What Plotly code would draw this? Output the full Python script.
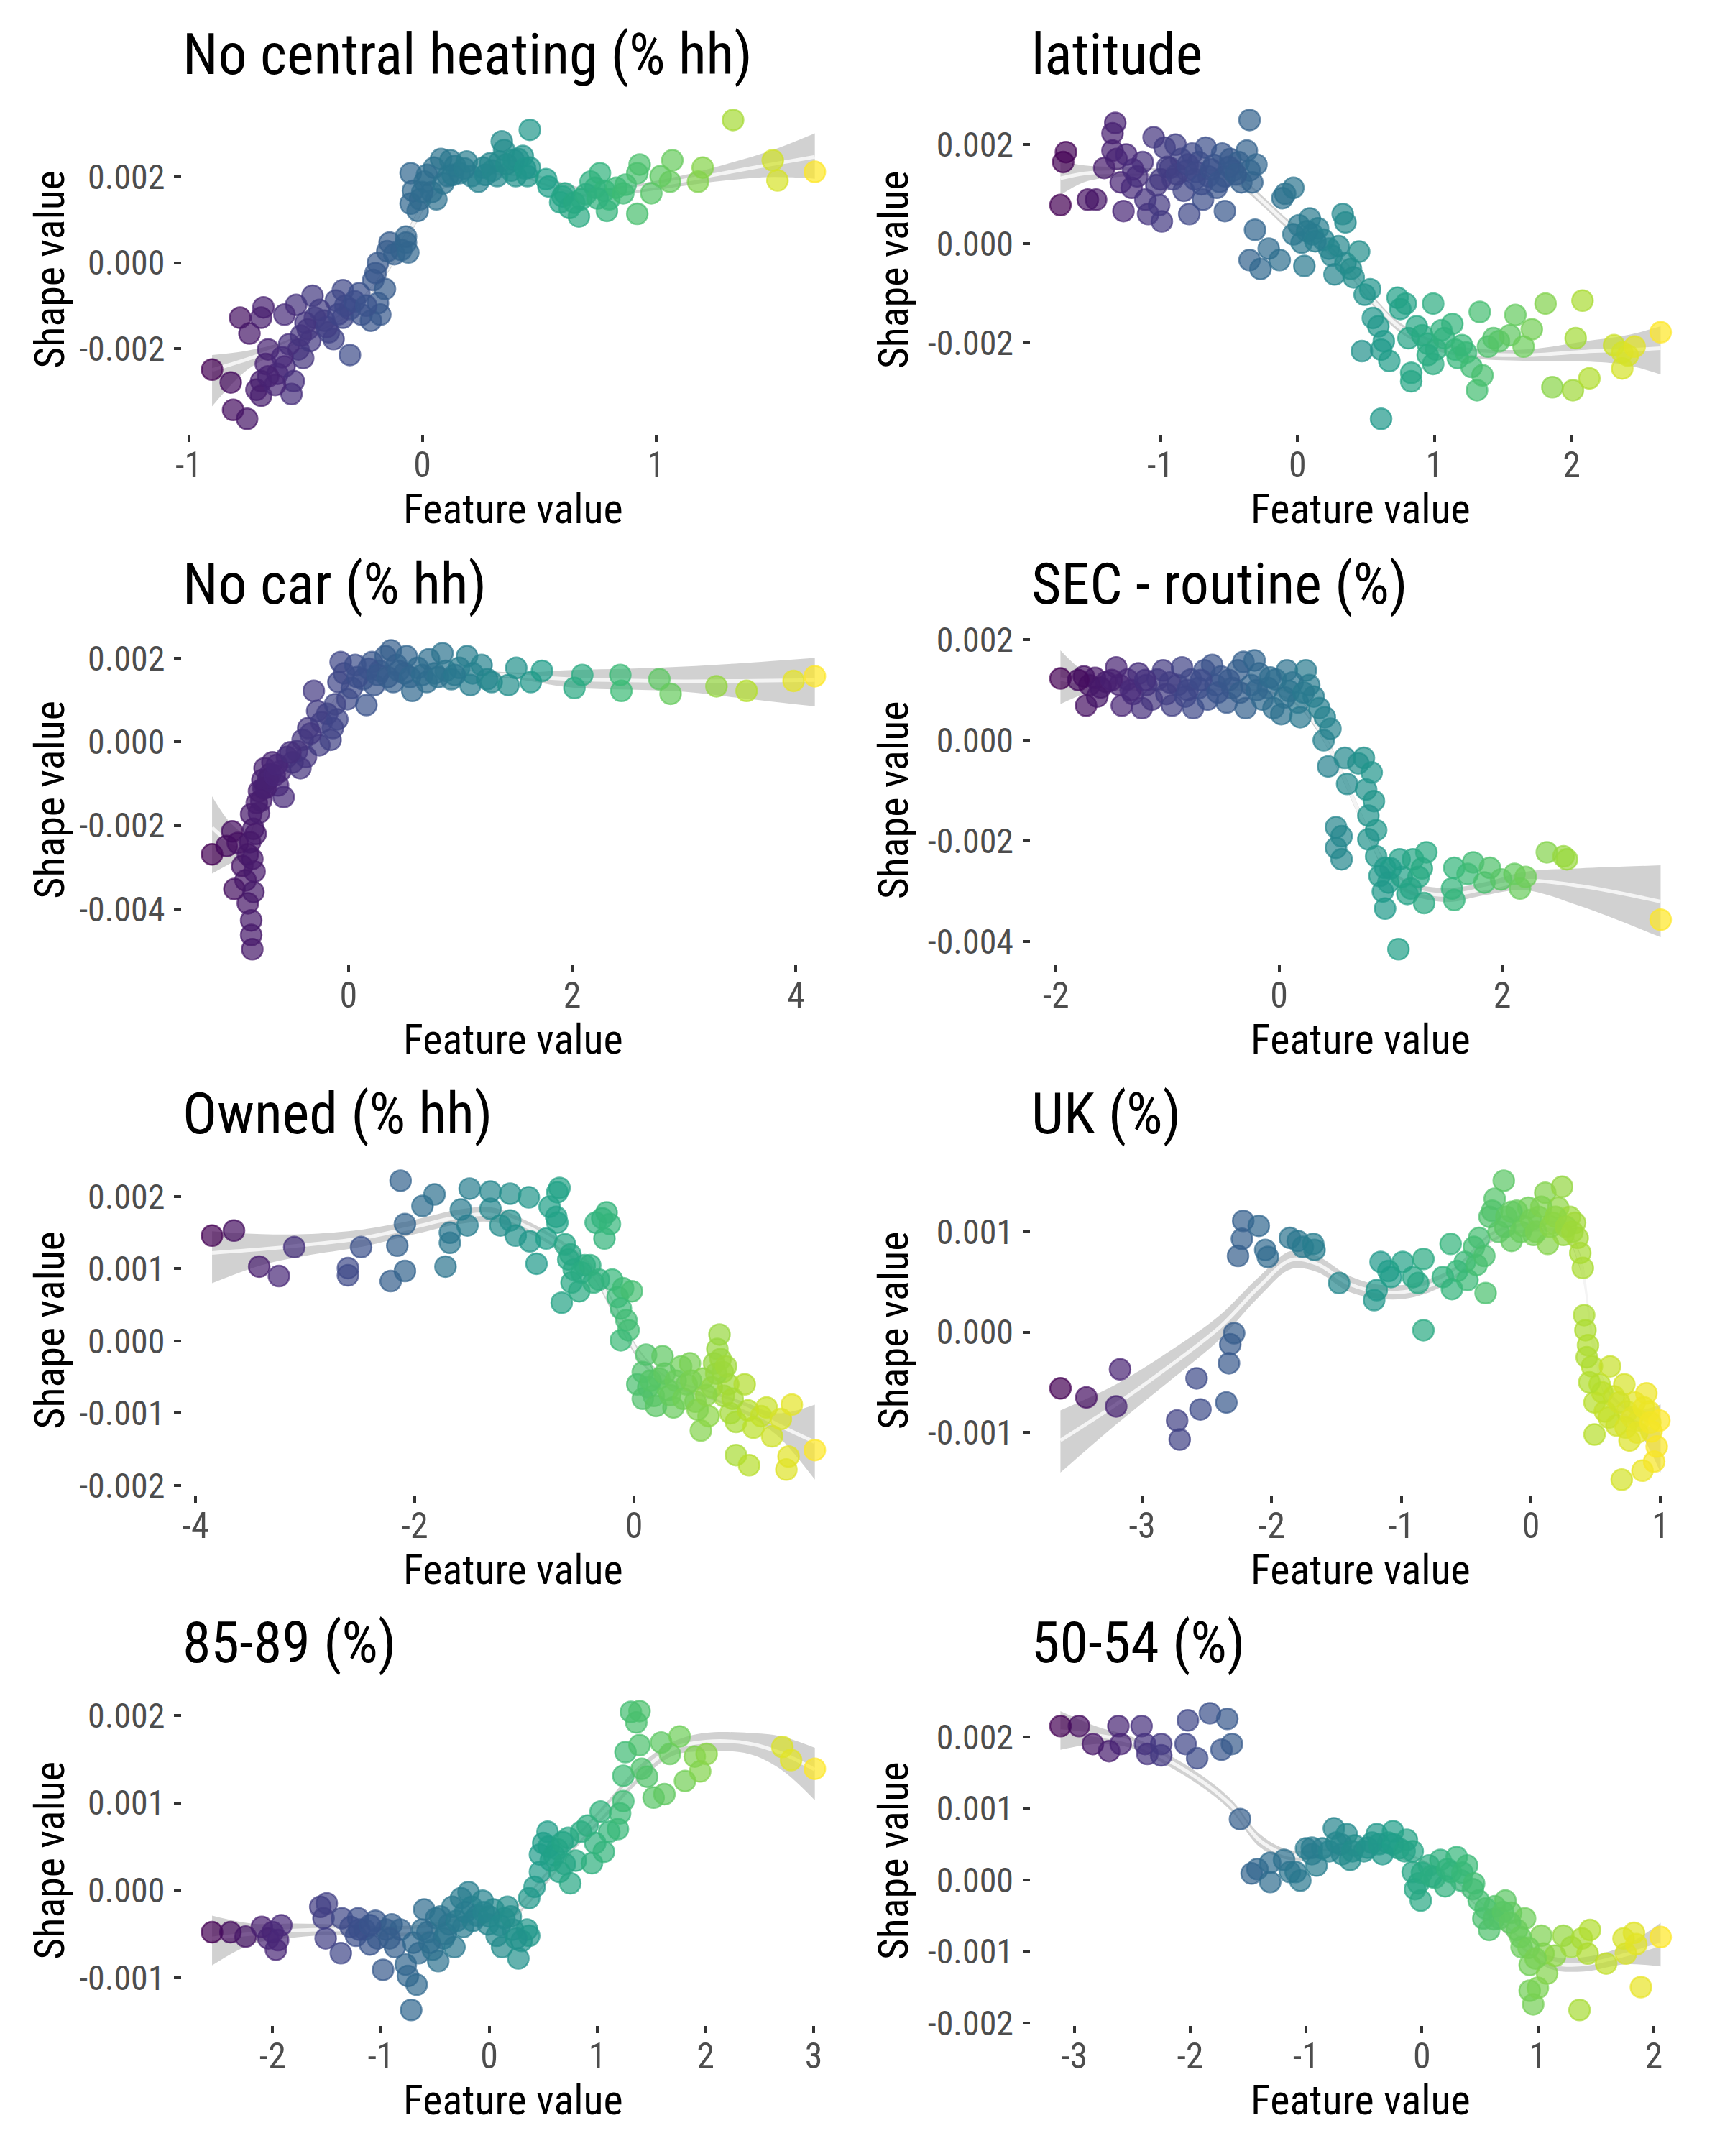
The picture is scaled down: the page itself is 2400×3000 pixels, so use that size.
import plotly.graph_objects as go
from plotly.colors import sample_colorscale

FONT = "Roboto Condensed, Liberation Sans Narrow, DejaVu Sans Condensed, Roboto, sans-serif"
MILLI = 1e-3  # shape values below are written in thousandths

# ---- No central heating (% hh) ----
heating_points = [
    (-0.90, -2.49), (-0.82, -2.79), (-0.81, -3.43), (-0.75, -3.64), (-0.78, -1.28), (-0.74, -1.65),
    (-0.68, -1.04), (-0.69, -1.28), (-0.71, -2.96), (-0.69, -2.76), (-0.69, -3.10), (-0.67, -2.36),
    (-0.66, -2.02), (-0.62, -2.59), (-0.59, -2.42), (-0.56, -3.06), (-0.55, -2.76), (-0.54, -0.98),
    (-0.59, -1.21), (-0.53, -2.02), (-0.51, -2.22), (-0.49, -1.55), (-0.47, -0.77), (-0.48, -1.82),
    (-0.46, -1.28), (-0.42, -1.35), (-0.40, -1.62), (-0.38, -1.78), (-0.37, -0.88), (-0.34, -1.28),
    (-0.31, -2.15), (-0.34, -0.64), (-0.31, -1.08), (-0.27, -0.71), (-0.26, -1.21), (-0.22, -1.35),
    (-0.21, -0.40), (-0.19, -0.94), (-0.18, -1.21), (-0.16, -0.61), (-0.20, -0.24), (-0.19, 0.00),
    (-0.15, 0.27), (-0.14, 0.47), (-0.12, 0.20), (-0.09, 0.30), (-0.07, 0.47), (-0.06, 0.24),
    (-0.07, 0.61), (-0.60, -2.20), (-0.57, -1.90), (-0.52, -1.70), (-0.50, -1.40), (-0.44, -1.10),
    (-0.41, -1.50), (-0.36, -1.20), (-0.33, -1.00), (-0.29, -0.90), (-0.24, -1.00), (-0.63, -2.85),
    (-0.66, -2.65),
    (-0.05, 1.38), (-0.02, 1.21), (-0.01, 1.48), (-0.04, 1.68), (-0.05, 2.09), (0.01, 1.89),
    (0.04, 1.65), (0.06, 1.48), (0.05, 2.22), (0.08, 2.42), (0.11, 2.02), (0.12, 2.39),
    (0.14, 2.26), (0.16, 2.09), (0.19, 2.36), (0.21, 2.02), (0.24, 1.89), (0.26, 2.22),
    (0.29, 2.32), (0.32, 2.02), (0.33, 2.36), (0.34, 2.83), (0.35, 2.63), (0.38, 2.15),
    (0.40, 2.02), (0.41, 2.42), (0.43, 2.49), (0.46, 2.22), (0.46, 3.10), (0.45, 2.02),
    (0.00, 1.65), (0.02, 2.05), (0.09, 1.85), (0.13, 2.05), (0.18, 2.20), (0.27, 2.05),
    (0.30, 2.15), (0.36, 2.30), (0.39, 2.40), (0.44, 2.20),
    (0.53, 1.95), (0.54, 1.78), (0.59, 1.41), (0.61, 1.62), (0.63, 1.28), (0.67, 1.08),
    (0.68, 1.48), (0.72, 1.89), (0.74, 1.75), (0.76, 2.09), (0.78, 1.68), (0.79, 1.21),
    (0.80, 1.48), (0.83, 1.75), (0.86, 1.62), (0.87, 1.82), (0.92, 2.09), (0.92, 1.14),
    (0.93, 2.29), (0.98, 1.62), (1.02, 2.02), (1.06, 1.89), (1.07, 2.39), (1.18, 1.89),
    (1.20, 2.22), (1.33, 3.33), (1.50, 2.39), (1.52, 1.92), (1.68, 2.12),
    (0.60, 1.55), (0.65, 1.40), (0.70, 1.60), (0.75, 1.50),
]
heating_smooth = [  # x, fit, lower, upper
    (-0.90, -2.50, -3.35, -2.15), (-0.75, -2.25, -2.50, -2.05), (-0.60, -1.95, -2.05, -1.85),
    (-0.45, -1.55, -1.63, -1.47), (-0.30, -1.10, -1.18, -1.02), (-0.15, -0.15, -0.25, -0.05),
    (-0.05, 0.80, 0.68, 0.92), (0.05, 1.65, 1.55, 1.75), (0.20, 2.05, 1.97, 2.13),
    (0.40, 2.10, 2.02, 2.18), (0.55, 1.85, 1.75, 1.95), (0.70, 1.64, 1.54, 1.74),
    (0.90, 1.72, 1.62, 1.82), (1.10, 1.90, 1.78, 2.02), (1.30, 2.10, 1.92, 2.30),
    (1.50, 2.30, 2.00, 2.63), (1.68, 2.47, 1.96, 3.02),
]

# ---- latitude ----
latitude_points = [
    (-1.69, 1.85), (-1.71, 1.65), (-1.73, 0.78), (-1.53, 0.89), (-1.47, 0.89), (-1.41, 1.53),
    (-1.35, 2.23), (-1.33, 2.44), (-1.35, 1.88), (-1.32, 1.71), (-1.29, 1.24), (-1.27, 0.66),
    (-1.21, 1.13), (-1.17, 1.36), (-1.13, 1.65), (-1.11, 0.89), (-1.09, 0.60), (-1.05, 2.15),
    (-1.03, 1.18), (-1.01, 0.78), (-0.99, 0.45), (-0.97, 1.94), (-0.93, 1.53), (-0.91, 1.30),
    (-0.89, 2.00), (-0.85, 1.71), (-0.83, 1.07), (-0.81, 1.48), (-0.79, 0.60), (-0.77, 1.82),
    (-0.75, 1.30), (-0.72, 1.65), (-0.69, 0.89), (-0.67, 1.94), (-0.65, 1.36), (-0.61, 1.59),
    (-0.59, 1.13), (-0.55, 1.82), (-0.53, 1.36), (-0.53, 0.66), (-0.49, 1.71), (-0.47, 1.48),
    (-0.43, 1.65), (-0.41, 1.24), (-0.37, 1.88), (-0.35, 2.50), (-0.35, 1.48), (-0.33, 1.24),
    (-1.00, 1.30), (-0.95, 1.55), (-0.88, 1.40), (-0.80, 1.60), (-0.74, 1.45), (-0.70, 1.20),
    (-0.63, 1.50), (-0.57, 1.25), (-0.50, 1.55), (-0.45, 1.40), (-1.25, 1.80), (-1.20, 1.50),
    (-0.30, 1.60),
    (-0.31, 0.28), (-0.35, -0.33), (-0.27, -0.51), (-0.21, -0.10), (-0.13, -0.33), (-0.11, 0.92),
    (-0.09, 1.01), (-0.03, 1.13), (-0.03, 0.19), (0.01, 0.37), (0.03, 0.02), (0.05, -0.45),
    (0.09, 0.51), (0.11, 0.19), (0.15, 0.31), (0.19, 0.08), (0.23, -0.10), (0.25, -0.24),
    (0.27, -0.62), (0.33, 0.60), (0.35, 0.43), (0.35, -0.39), (0.39, -0.51), (0.45, -0.16),
    (0.41, -0.68), (0.49, -1.03), (0.53, -0.92), (0.55, -1.50), (0.59, -1.67), (0.61, -2.14),
    (0.47, -2.17), (0.63, -1.97), (0.67, -2.37), (0.73, -1.09), (0.75, -1.32), (0.79, -1.21),
    (0.81, -1.91), (0.83, -2.61), (0.83, -2.78), (0.87, -1.67), (0.91, -1.85), (0.95, -2.02),
    (0.99, -1.21), (1.01, -2.14), (0.99, -2.43), (1.07, -1.91), (1.13, -1.62), (1.15, -2.14),
    (1.17, -2.31), (1.23, -2.20), (1.27, -2.49), (1.31, -2.96), (1.33, -1.38), (1.35, -2.66),
    (1.39, -2.08), (1.43, -1.91), (1.47, -1.97), (1.55, -1.85), (1.59, -1.44), (1.65, -2.08),
    (1.71, -1.73), (1.81, -1.21), (1.86, -2.90), (2.01, -2.96), (2.03, -1.91), (2.08, -1.15),
    (2.13, -2.72), (2.31, -2.05), (2.37, -2.20), (2.41, -2.26), (2.37, -2.52), (2.46, -2.08),
    (2.65, -1.79), (0.61, -3.54), (0.07, 0.25), (0.13, 0.05), (0.30, -0.05), (0.95, -2.25),
    (1.05, -1.75), (1.20, -2.05),
]
latitude_smooth = [
    (-1.73, 1.32, 0.98, 1.68), (-1.55, 1.42, 1.25, 1.58), (-1.30, 1.45, 1.35, 1.55),
    (-1.00, 1.45, 1.38, 1.52), (-0.70, 1.45, 1.38, 1.52), (-0.45, 1.30, 1.20, 1.40),
    (-0.25, 0.85, 0.75, 0.95), (-0.05, 0.35, 0.25, 0.45), (0.15, 0.05, -0.05, 0.15),
    (0.35, -0.45, -0.55, -0.35), (0.55, -1.15, -1.25, -1.05), (0.75, -1.70, -1.80, -1.60),
    (1.00, -2.05, -2.15, -1.95), (1.30, -2.22, -2.32, -2.12), (1.70, -2.25, -2.37, -2.13),
    (2.10, -2.18, -2.38, -1.97), (2.40, -2.15, -2.45, -1.85), (2.65, -2.11, -2.64, -1.67),
]

# ---- No car (% hh) ----
nocar_points = [
    (-1.22, -2.69), (-1.09, -2.49), (-1.04, -2.14), (-0.99, -2.42), (-1.02, -3.52), (-0.95, -2.97),
    (-0.92, -3.31), (-0.90, -3.86), (-0.87, -4.27), (-0.87, -4.62), (-0.86, -4.96), (-0.85, -3.59),
    (-0.90, -2.69), (-0.85, -2.08), (-0.87, -1.73), (-0.82, -1.46), (-0.80, -1.18), (-0.77, -0.91),
    (-0.75, -0.63), (-0.76, -1.11), (-0.70, -0.77), (-0.68, -0.49), (-0.63, -1.04), (-0.61, -0.70),
    (-0.58, -1.32), (-0.55, -0.36), (-0.50, -0.49), (-0.46, -0.22), (-0.43, -0.63), (-0.41, 0.05),
    (-0.38, -0.36), (-0.36, 0.33), (-0.31, 1.22), (-0.28, 0.74), (-0.26, -0.08), (-0.24, 0.47),
    (-0.19, 0.67), (-0.16, 0.05), (-0.14, 0.33), (-0.10, 0.54), (-0.09, 1.43), (-0.07, 1.91),
    (-0.04, 1.64), (-0.01, 1.02), (0.03, 1.29), (0.06, 1.84), (0.13, 1.50), (0.16, 0.88),
    (0.21, 1.91), (0.23, 1.36), (0.28, 1.70), (0.33, 2.05), (0.38, 2.19), (0.40, 1.43),
    (0.43, 1.84), (0.50, 1.64), (0.52, 2.05), (0.57, 1.22), (0.62, 1.77), (0.70, 1.43),
    (0.72, 1.98), (0.77, 1.64), (0.84, 2.12), (0.87, 1.70), (0.92, 1.50), (0.99, 1.77),
    (1.06, 2.05), (1.09, 1.36), (1.11, 1.64), (1.19, 1.84), (1.24, 1.50), (1.28, 1.43),
    (1.43, 1.36), (1.50, 1.77), (1.63, 1.43), (1.73, 1.70), (2.02, 1.29), (2.09, 1.60),
    (2.43, 1.60), (2.44, 1.22), (2.78, 1.50), (2.88, 1.15), (3.29, 1.33), (3.56, 1.22),
    (3.98, 1.46), (4.17, 1.57),
    (-0.88, -2.40), (-0.86, -2.80), (-0.84, -3.10), (-0.83, -2.20), (-0.80, -1.70), (-0.78, -1.40),
    (-0.74, -1.10), (-0.72, -0.90), (-0.66, -0.80), (-0.64, -0.55), (-0.52, -0.25), (-0.34, 0.20),
    (-0.12, 0.90), (0.08, 1.55), (0.18, 1.75), (0.26, 1.60), (0.35, 1.55), (0.45, 1.70),
    (0.55, 1.55), (0.66, 1.60), (0.80, 1.55), (0.95, 1.60),
]
nocar_smooth = [
    (-1.22, -2.05, -3.15, -1.30), (-1.05, -2.40, -2.90, -1.95), (-0.90, -2.45, -2.70, -2.20),
    (-0.75, -1.20, -1.35, -1.05), (-0.60, -0.80, -0.92, -0.68), (-0.40, -0.10, -0.20, 0.00),
    (-0.20, 0.65, 0.55, 0.75), (0.00, 1.35, 1.27, 1.43), (0.20, 1.65, 1.58, 1.72),
    (0.50, 1.72, 1.66, 1.78), (1.00, 1.68, 1.62, 1.74), (1.50, 1.58, 1.50, 1.66),
    (2.00, 1.50, 1.30, 1.72), (2.50, 1.47, 1.25, 1.75), (3.00, 1.45, 1.20, 1.80),
    (3.50, 1.46, 1.05, 1.88), (4.17, 1.48, 0.85, 2.01),
]

# ---- SEC - routine (%) ----
sec_points = [
    (-1.96, 1.23), (-1.75, 1.27), (-1.73, 0.69), (-1.70, 1.10), (-1.65, 1.24), (-1.63, 0.87),
    (-1.55, 1.16), (-1.46, 1.45), (-1.43, 1.10), (-1.41, 0.69), (-1.36, 1.21), (-1.31, 0.92),
    (-1.26, 1.33), (-1.23, 0.64), (-1.19, 1.10), (-1.14, 0.81), (-1.09, 1.21), (-1.04, 1.39),
    (-1.01, 0.92), (-0.96, 0.69), (-0.91, 1.10), (-0.87, 1.45), (-0.84, 0.87), (-0.79, 1.21),
    (-0.77, 0.64), (-0.72, 1.04), (-0.67, 1.39), (-0.64, 0.81), (-0.60, 1.50), (-0.57, 1.10),
    (-0.52, 1.27), (-0.47, 0.75), (-0.42, 1.04), (-0.37, 1.39), (-0.32, 1.56), (-0.30, 0.64),
    (-0.25, 1.10), (-0.22, 1.59), (-0.18, 1.33), (-0.15, 0.81), (-0.10, 1.04), (-0.05, 0.64),
    (-0.03, 1.21), (0.02, 0.52), (0.07, 1.39), (0.09, 0.98), (0.17, 0.75), (0.19, 0.46),
    (0.24, 1.39), (0.27, 1.10), (0.31, 0.87), (0.36, 0.64), (0.41, 0.46), (0.46, 0.23),
    (0.40, 0.00), (0.44, -0.52), (0.59, -0.35), (0.61, -0.87), (0.56, -1.91), (0.51, -2.14),
    (0.51, -1.73), (0.56, -2.37), (0.71, -0.46), (0.76, -0.35), (0.78, -0.98), (0.83, -0.64),
    (0.85, -1.21), (0.80, -1.50), (0.87, -1.79), (0.80, -1.97), (0.87, -2.31), (0.95, -2.54),
    (0.98, -2.83), (0.93, -3.01), (0.95, -3.35), (1.08, -2.37), (1.10, -2.72), (1.15, -3.06),
    (1.20, -2.37), (1.25, -2.72), (1.30, -3.24), (1.32, -2.23), (1.07, -4.16), (1.57, -2.54),
    (1.55, -2.95), (1.57, -3.18), (1.69, -2.66), (1.74, -2.43), (1.84, -2.83), (1.89, -2.54),
    (1.99, -2.77), (2.11, -2.66), (2.16, -2.95), (2.21, -2.72), (2.40, -2.23), (2.55, -2.31),
    (2.58, -2.37), (3.42, -3.57),
    (-1.80, 1.20), (-1.60, 1.05), (-1.50, 1.20), (-1.33, 1.00), (-1.20, 1.20), (-0.98, 1.15),
    (-0.82, 1.00), (-0.70, 1.20), (-0.55, 0.95), (-0.45, 1.20), (-0.35, 0.95), (-0.20, 1.00),
    (-0.08, 1.25), (0.05, 0.85), (0.12, 1.15), (0.22, 0.95), (1.00, -2.55), (1.18, -2.95),
    (1.28, -2.55), (0.90, -2.70),
]
sec_smooth = [
    (-1.96, 1.22, 0.72, 1.79), (-1.70, 1.12, 0.95, 1.30), (-1.40, 1.07, 0.98, 1.16),
    (-1.00, 1.05, 0.98, 1.12), (-0.50, 1.06, 0.99, 1.13), (-0.10, 1.02, 0.94, 1.10),
    (0.15, 0.80, 0.70, 0.90), (0.35, 0.25, 0.15, 0.35), (0.55, -0.60, -0.70, -0.50),
    (0.75, -1.60, -1.70, -1.50), (0.95, -2.50, -2.62, -2.38), (1.15, -2.92, -3.04, -2.80),
    (1.50, -3.08, -3.22, -2.94), (1.85, -2.95, -3.08, -2.82), (2.20, -2.80, -2.98, -2.62),
    (2.70, -2.90, -3.30, -2.55), (3.42, -3.21, -3.92, -2.49),
]

# ---- Owned (% hh) ----
owned_points = [
    (-3.85, 1.46), (-3.65, 1.53), (-3.42, 1.03), (-3.24, 0.90), (-3.10, 1.30), (-2.61, 1.01),
    (-2.61, 0.91), (-2.49, 1.30), (-2.22, 0.83), (-2.16, 1.32), (-2.09, 0.97), (-2.13, 2.22),
    (-2.09, 1.62), (-1.93, 1.87), (-1.82, 2.03), (-1.72, 1.03), (-1.68, 1.36), (-1.68, 1.50),
    (-1.58, 1.82), (-1.52, 1.60), (-1.50, 2.11), (-1.31, 2.07), (-1.31, 1.83), (-1.22, 1.60),
    (-1.13, 2.04), (-1.13, 1.67), (-1.08, 1.46), (-0.96, 1.99), (-0.95, 1.38), (-0.89, 1.07),
    (-0.80, 1.42), (-0.77, 1.86), (-0.71, 1.72), (-0.70, 1.64), (-0.68, 2.12), (-0.70, 2.06),
    (-0.63, 1.34), (-0.60, 1.13), (-0.57, 0.81), (-0.66, 0.53), (-0.55, 0.99), (-0.50, 0.69),
    (-0.45, 1.05), (-0.37, 0.81), (-0.35, 1.64), (-0.29, 1.70), (-0.27, 1.42), (-0.22, 1.62),
    (-0.25, 1.78), (-0.20, 0.85), (-0.15, 0.61), (-0.10, 0.73), (-0.02, 0.69), (-0.12, 0.45),
    (-0.07, 0.29), (-0.05, 0.15), (-0.12, 0.01),
    (0.11, -0.19), (0.26, -0.21), (0.08, -0.43), (0.13, -0.64), (0.03, -0.60), (0.18, -0.76),
    (0.08, -0.80), (0.23, -0.52), (0.31, -0.68), (0.36, -0.92), (0.43, -0.35), (0.48, -0.60),
    (0.51, -0.31), (0.56, -0.84), (0.61, -1.24), (0.63, -0.52), (0.68, -1.04), (0.71, -0.64),
    (0.73, -0.31), (0.76, -0.11), (0.78, 0.09), (0.81, -0.43), (0.82, -0.76), (0.86, -0.60),
    (0.88, -1.00), (0.93, -1.12), (0.93, -1.58), (1.01, -0.60), (1.04, -0.96), (1.05, -1.72),
    (1.09, -1.20), (1.16, -1.04), (1.21, -0.92), (1.26, -1.32), (1.34, -1.08), (1.39, -1.78),
    (1.41, -1.60), (1.44, -0.88), (1.65, -1.51),
    (0.15, -0.55), (0.20, -0.90), (0.28, -0.45), (0.33, -0.75), (0.38, -0.55), (0.45, -0.80),
    (0.52, -0.55), (0.58, -0.95), (0.66, -0.75), (0.75, -0.45), (0.79, -0.25), (0.84, -0.35),
    (0.90, -0.80), (-0.58, 1.20), (-0.48, 0.95), (-0.40, 1.05), (-0.32, 0.85),
]
owned_smooth = [
    (-3.85, 1.22, 0.80, 1.52), (-3.40, 1.27, 1.05, 1.48), (-3.00, 1.33, 1.18, 1.48),
    (-2.50, 1.42, 1.30, 1.54), (-2.00, 1.58, 1.48, 1.68), (-1.60, 1.72, 1.62, 1.82),
    (-1.30, 1.75, 1.65, 1.85), (-1.00, 1.60, 1.52, 1.68), (-0.70, 1.35, 1.27, 1.43),
    (-0.40, 1.00, 0.92, 1.08), (-0.15, 0.35, 0.25, 0.45), (0.05, -0.20, -0.28, -0.12),
    (0.30, -0.55, -0.61, -0.49), (0.70, -0.75, -0.81, -0.69), (1.00, -0.92, -1.00, -0.84),
    (1.30, -1.15, -1.30, -1.00), (1.65, -1.40, -1.92, -0.88),
]

# ---- UK (%) ----
uk_points = [
    (-3.63, -0.56), (-3.43, -0.65), (-3.20, -0.74), (-3.17, -0.37), (-2.73, -0.88), (-2.71, -1.07),
    (-2.58, -0.46), (-2.55, -0.77), (-2.35, -0.70), (-2.33, -0.31), (-2.32, -0.12), (-2.29, -0.01),
    (-2.26, 0.76), (-2.23, 0.93), (-2.22, 1.11), (-2.10, 1.06), (-2.05, 0.82), (-2.03, 0.75),
    (-1.86, 0.94), (-1.80, 0.91), (-1.76, 0.85), (-1.68, 0.88), (-1.67, 0.82), (-1.48, 0.49),
    (-1.21, 0.32), (-1.19, 0.42), (-1.16, 0.70), (-1.10, 0.61), (-1.08, 0.55), (-0.99, 0.70),
    (-0.91, 0.55), (-0.87, 0.49), (-0.83, 0.73), (-0.83, 0.02), (-0.68, 0.55), (-0.62, 0.88),
    (-0.61, 0.43), (-0.57, 0.61), (-0.51, 0.70), (-0.49, 0.52), (-0.44, 0.85), (-0.42, 0.67),
    (-0.40, 0.94), (-0.36, 0.76), (-0.35, 0.39), (-0.32, 1.15), (-0.28, 1.33), (-0.30, 1.21),
    (-0.25, 1.00), (-0.21, 1.51), (-0.19, 1.15), (-0.15, 0.91), (-0.11, 1.21), (-0.06, 1.06),
    (-0.02, 1.24), (0.02, 0.97), (0.06, 1.15), (0.11, 1.39), (0.13, 0.88), (0.17, 1.09),
    (0.21, 1.24), (0.24, 1.45), (0.25, 0.97), (0.30, 1.15), (0.34, 1.09), (0.36, 0.94),
    (0.38, 0.79), (0.40, 0.64), (0.41, 0.17), (0.42, 0.02), (0.44, -0.13), (0.47, -0.34),
    (0.49, -0.70), (0.49, -1.02), (0.53, -0.52), (0.57, -0.79), (0.61, -0.34), (0.64, -0.64),
    (0.66, -0.93), (0.70, -1.47), (0.72, -0.52), (0.74, -0.79), (0.76, -1.08), (0.80, -0.70),
    (0.83, -0.88), (0.86, -1.38), (0.89, -0.61), (0.91, -0.79), (0.93, -0.99), (0.95, -1.29),
    (0.97, -1.14), (0.99, -0.88),
    (-0.20, 1.05), (-0.15, 1.20), (-0.08, 1.00), (0.00, 1.12), (0.04, 1.00), (0.08, 1.25),
    (0.15, 1.05), (0.19, 1.15), (0.27, 1.05), (0.32, 1.00), (0.55, -0.60), (0.60, -0.85),
    (0.68, -0.70), (0.73, -0.95), (0.78, -0.85), (0.82, -1.00), (0.87, -0.75), (0.92, -0.90),
    (0.45, -0.50), (0.43, -0.25),
]
uk_smooth = [
    (-3.63, -1.08, -1.40, -0.78), (-3.20, -0.72, -0.92, -0.52), (-2.80, -0.35, -0.50, -0.20),
    (-2.40, 0.05, -0.07, 0.17), (-2.10, 0.45, 0.35, 0.55), (-1.85, 0.72, 0.63, 0.81),
    (-1.65, 0.68, 0.60, 0.76), (-1.40, 0.48, 0.40, 0.56), (-1.15, 0.40, 0.33, 0.47),
    (-0.90, 0.42, 0.35, 0.49), (-0.60, 0.58, 0.52, 0.64), (-0.30, 0.95, 0.90, 1.00),
    (0.00, 1.05, 1.00, 1.10), (0.25, 1.02, 0.96, 1.08), (0.38, 0.70, 0.62, 0.78),
    (0.48, -0.10, -0.18, -0.02), (0.60, -0.65, -0.72, -0.58), (0.80, -0.85, -0.93, -0.77),
    (1.00, -0.97, -1.40, -0.72),
]

# ---- 85-89 (%) ----
age85_points = [
    (-2.56, -0.48), (-2.39, -0.48), (-2.25, -0.53), (-2.10, -0.42), (-2.04, -0.55), (-2.00, -0.48),
    (-1.97, -0.68), (-1.92, -0.40), (-1.95, -0.57), (-1.56, -0.19), (-1.50, -0.15), (-1.53, -0.32),
    (-1.51, -0.55), (-1.37, -0.72), (-1.36, -0.32), (-1.28, -0.42), (-1.23, -0.52), (-1.21, -0.32),
    (-1.15, -0.45), (-1.10, -0.62), (-1.05, -0.35), (-1.03, -0.55), (-0.98, -0.91), (-0.95, -0.45),
    (-0.90, -0.39), (-0.87, -0.65), (-0.82, -0.45), (-0.77, -0.85), (-0.75, -0.98), (-0.72, -1.37),
    (-0.67, -1.08), (-0.65, -0.72), (-0.60, -0.22), (-0.57, -0.48), (-0.52, -0.68), (-0.49, -0.32),
    (-0.47, -0.81), (-0.42, -0.55), (-0.37, -0.39), (-0.34, -0.19), (-0.32, -0.65), (-0.26, -0.09),
    (-0.24, -0.42), (-0.19, -0.02), (-0.16, -0.19), (-0.11, -0.29), (-0.06, -0.12), (-0.01, -0.39),
    (0.04, -0.22), (0.07, -0.52), (0.12, -0.65), (0.14, -0.32), (0.17, -0.19), (0.22, -0.45),
    (0.27, -0.78), (0.30, -0.58), (0.35, -0.45), (0.37, -0.52), (0.37, -0.09), (0.42, 0.04),
    (0.47, 0.21), (0.47, 0.41), (0.50, 0.54), (0.54, 0.67), (0.57, 0.34), (0.63, 0.47),
    (0.65, 0.21), (0.73, 0.60), (0.75, 0.08), (0.80, 0.34), (0.85, 0.67), (0.91, 0.74),
    (0.95, 0.31), (0.98, 0.54), (1.03, 0.90), (1.06, 0.44), (1.11, 0.67), (1.19, 0.70),
    (1.21, 0.88), (1.24, 1.02), (1.24, 1.31), (1.26, 1.58), (1.31, 2.04), (1.39, 2.05),
    (1.36, 1.92), (1.39, 1.66), (1.41, 1.39), (1.46, 1.30), (1.52, 1.06), (1.59, 1.69),
    (1.62, 1.10), (1.67, 1.56), (1.76, 1.76), (1.81, 1.25), (1.90, 1.53), (1.95, 1.36),
    (2.01, 1.56), (2.71, 1.64), (2.79, 1.49), (3.01, 1.39),
    (-0.70, -0.60), (-0.62, -0.45), (-0.55, -0.60), (-0.45, -0.30), (-0.40, -0.50), (-0.30, -0.35),
    (-0.22, -0.25), (-0.15, -0.35), (-0.05, -0.25), (0.00, -0.30), (0.10, -0.40), (0.20, -0.30),
    (0.25, -0.55), (-1.20, -0.45), (-1.10, -0.40), (-0.92, -0.55), (0.55, 0.50), (0.60, 0.40),
    (0.68, 0.55), (0.70, 0.30),
]
age85_smooth = [
    (-2.56, -0.55, -0.86, -0.29), (-2.20, -0.50, -0.62, -0.38), (-1.80, -0.46, -0.54, -0.38),
    (-1.40, -0.45, -0.51, -0.39), (-1.00, -0.47, -0.53, -0.41), (-0.60, -0.45, -0.51, -0.39),
    (-0.20, -0.35, -0.41, -0.29), (0.20, -0.27, -0.33, -0.21), (0.50, 0.10, 0.03, 0.17),
    (0.80, 0.55, 0.48, 0.62), (1.10, 0.95, 0.87, 1.03), (1.40, 1.35, 1.26, 1.44),
    (1.70, 1.62, 1.54, 1.70), (2.00, 1.70, 1.59, 1.80), (2.40, 1.68, 1.56, 1.80),
    (2.70, 1.57, 1.38, 1.76), (3.01, 1.38, 1.03, 1.63),
]

# ---- 50-54 (%) ----
age50_points = [
    (-3.12, 2.15), (-2.96, 2.15), (-2.84, 1.90), (-2.70, 1.80), (-2.62, 2.15), (-2.60, 1.90),
    (-2.42, 2.15), (-2.39, 1.90), (-2.37, 1.76), (-2.25, 1.90), (-2.25, 1.74), (-2.02, 2.23),
    (-2.04, 1.90), (-1.94, 1.70), (-1.83, 2.33), (-1.73, 1.82), (-1.68, 2.25), (-1.64, 1.90),
    (-1.57, 0.85), (-1.47, 0.09), (-1.42, 0.15), (-1.31, 0.24), (-1.31, -0.03), (-1.19, 0.28),
    (-1.14, 0.11), (-1.09, 0.11), (-1.05, -0.01), (-1.00, 0.44), (-0.95, 0.36), (-0.91, 0.20),
    (-0.86, 0.44), (-0.76, 0.72), (-0.74, 0.52), (-0.69, 0.36), (-0.65, 0.64), (-0.62, 0.28),
    (-0.58, 0.48), (-0.50, 0.40), (-0.43, 0.52), (-0.39, 0.64), (-0.34, 0.36), (-0.29, 0.52),
    (-0.25, 0.68), (-0.20, 0.44), (-0.13, 0.56), (-0.08, 0.40), (-0.08, 0.11), (-0.03, -0.05),
    (-0.06, -0.13), (-0.01, -0.29), (0.06, 0.20), (0.11, 0.03), (0.16, 0.28), (0.20, -0.09),
    (0.25, 0.11), (0.30, 0.32), (0.34, -0.01), (0.39, 0.20), (0.44, -0.13), (0.49, -0.29),
    (0.53, -0.54), (0.58, -0.70), (0.63, -0.37), (0.67, -0.54), (0.72, -0.29), (0.77, -0.46),
    (0.82, -0.70), (0.86, -0.94), (0.89, -0.54), (0.93, -1.19), (0.93, -1.55), (0.96, -1.74),
    (1.00, -1.51), (1.03, -0.78), (1.05, -1.03), (1.08, -1.31), (1.15, -1.06), (1.22, -0.78),
    (1.29, -0.94), (1.36, -1.82), (1.38, -0.82), (1.45, -0.70), (1.43, -1.03), (1.59, -1.17),
    (1.74, -0.82), (1.76, -1.03), (1.83, -0.74), (1.85, -0.90), (1.89, -1.50), (2.06, -0.80),
    (-0.95, 0.45), (-0.80, 0.40), (-0.70, 0.50), (-0.60, 0.40), (-0.47, 0.45), (-0.37, 0.50),
    (-0.25, 0.50), (-0.15, 0.40), (0.00, 0.10), (0.08, 0.05), (0.22, 0.15), (0.35, 0.10),
    (0.45, -0.05), (0.55, -0.40), (0.62, -0.55), (0.70, -0.45), (0.76, -0.60), (0.85, -0.80),
    (0.92, -0.95), (0.98, -1.10),
]
age50_smooth = [
    (-3.12, 2.08, 1.82, 2.36), (-2.80, 2.02, 1.90, 2.14), (-2.50, 1.92, 1.84, 2.00),
    (-2.20, 1.68, 1.60, 1.76), (-1.90, 1.38, 1.30, 1.46), (-1.65, 1.05, 0.97, 1.13),
    (-1.40, 0.55, 0.46, 0.64), (-1.15, 0.35, 0.28, 0.42), (-0.80, 0.38, 0.32, 0.44),
    (-0.40, 0.45, 0.39, 0.51), (-0.10, 0.30, 0.24, 0.36), (0.20, 0.05, -0.01, 0.11),
    (0.50, -0.35, -0.41, -0.29), (0.80, -0.80, -0.87, -0.73), (1.10, -1.15, -1.24, -1.06),
    (1.40, -1.18, -1.28, -1.08), (1.75, -1.05, -1.18, -0.92), (2.06, -0.90, -1.21, -0.60),
]

titles = ["No central heating (% hh)", "latitude", "No car (% hh)", "SEC - routine (%)",
          "Owned (% hh)", "UK (%)", "85-89 (%)", "50-54 (%)"]
point_sets = [heating_points, latitude_points, nocar_points, sec_points,
              owned_points, uk_points, age85_points, age50_points]
smooth_sets = [heating_smooth, latitude_smooth, nocar_smooth, sec_smooth,
               owned_smooth, uk_smooth, age85_smooth, age50_smooth]
x_ticks = [[-1, 0, 1], [-1, 0, 1, 2], [0, 2, 4], [-2, 0, 2],
           [-4, -2, 0], [-3, -2, -1, 0, 1], [-2, -1, 0, 1, 2, 3], [-3, -2, -1, 0, 1, 2]]
y_ticks = [[-0.002, 0.0, 0.002], [-0.002, 0.0, 0.002],
           [-0.004, -0.002, 0.0, 0.002], [-0.004, -0.002, 0.0, 0.002],
           [-0.002, -0.001, 0.0, 0.001, 0.002], [-0.001, 0.0, 0.001],
           [-0.001, 0.0, 0.001, 0.002], [-0.002, -0.001, 0.0, 0.001, 0.002]]

# page geometry in pixels
W, H = 2400, 3000
col_px = [(237, 1163), (1422, 2344)]
ytitle_px = [52, 1231]
row_top, row_h, row_step = 118, 465, 750
title_top, title_step = 47, 748.7
xtitle_top = 689


def rgba(col, a):
    return col.replace("rgb(", "rgba(").replace(")", f", {a})")


def padded(lo, hi, frac=0.05):
    span = hi - lo
    return [lo - frac * span, hi + frac * span]


fig = go.Figure()
annotations = []
layout_axes = {}

for i in range(8):
    k = i + 1
    r, c = divmod(i, 2)
    xs = [p[0] for p in point_sets[i]]
    ys = [p[1] * MILLI for p in point_sets[i]]
    sx = [s[0] for s in smooth_sets[i]]
    fit = [s[1] * MILLI for s in smooth_sets[i]]
    lo = [s[2] * MILLI for s in smooth_sets[i]]
    hi = [s[3] * MILLI for s in smooth_sets[i]]

    xmin, xmax = min(xs + sx), max(xs + sx)
    cols = sample_colorscale("Viridis", [(x - xmin) / (xmax - xmin) for x in xs])
    xa, ya = f"x{k}", f"y{k}"

    # smoother band and line first, points drawn over them
    fig.add_trace(go.Scatter(
        x=sx, y=hi, mode="lines", xaxis=xa, yaxis=ya, showlegend=False,
        line=dict(width=0, shape="spline", color="rgba(0,0,0,0)")))
    fig.add_trace(go.Scatter(
        x=sx, y=lo, mode="lines", xaxis=xa, yaxis=ya, showlegend=False, fill="tonexty",
        fillcolor="rgba(153,153,153,0.45)",
        line=dict(width=0, shape="spline", color="rgba(0,0,0,0)")))
    fig.add_trace(go.Scatter(
        x=sx, y=fit, mode="lines", xaxis=xa, yaxis=ya, showlegend=False,
        line=dict(width=5, shape="spline", color="rgba(255,255,255,0.75)")))
    fig.add_trace(go.Scatter(
        x=xs, y=ys, mode="markers", xaxis=xa, yaxis=ya, showlegend=False,
        marker=dict(size=29, color=[rgba(cc, 0.7) for cc in cols],
                    line=dict(width=2.5, color=[rgba(cc, 0.7) for cc in cols]))))

    x0, x1 = col_px[c]
    top = row_top + r * row_step
    bot = top + row_h
    common = dict(showgrid=False, zeroline=False, showline=False, ticks="outside",
                  ticklen=10, tickwidth=4, tickcolor="#333333")
    layout_axes[f"xaxis{k}"] = dict(
        domain=[x0 / W, x1 / W], anchor=ya, range=padded(xmin, xmax),
        tickvals=x_ticks[i], ticktext=[f"{v:g}" for v in x_ticks[i]],
        tickfont=dict(family=FONT, size=50, color="#4d4d4d"),
        ticklabelstandoff=-11, **common)
    layout_axes[f"yaxis{k}"] = dict(
        domain=[1 - bot / H, 1 - top / H], anchor=xa,
        range=padded(min(ys + lo), max(ys + hi)),
        tickvals=y_ticks[i], ticktext=[f"{v:.3f}" for v in y_ticks[i]],
        tickfont=dict(family=FONT, size=48, color="#4d4d4d"),
        ticklabelstandoff=3, **common)

    annotations.append(dict(
        text=titles[i], xref="paper", yref="paper", x=x0 / W,
        y=1 - (title_top + r * title_step) / H,
        xanchor="left", yanchor="middle", showarrow=False, borderpad=0,
        font=dict(family=FONT, size=80, color="black")))
    annotations.append(dict(
        text="Feature value", xref="paper", yref="paper", x=(x0 + x1) / 2 / W,
        y=1 - (xtitle_top + r * row_step) / H, xanchor="center", yanchor="middle",
        showarrow=False, font=dict(family=FONT, size=58, color="black")))
    annotations.append(dict(
        text="Shape value", xref="paper", yref="paper", x=ytitle_px[c] / W,
        y=1 - (top + row_h / 2) / H, xanchor="center", yanchor="middle", textangle=-90,
        showarrow=False, font=dict(family=FONT, size=58, color="black")))

fig.update_layout(
    width=W, height=H, margin=dict(l=0, r=0, t=0, b=0),
    paper_bgcolor="white", plot_bgcolor="white",
    font=dict(family=FONT), annotations=annotations, **layout_axes)

fig.write_html("out.html")
